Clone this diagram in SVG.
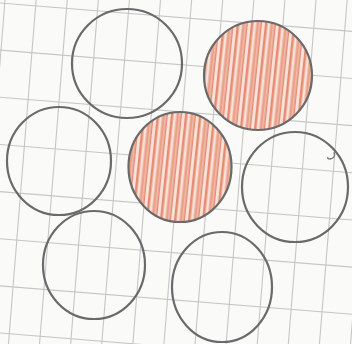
<svg xmlns="http://www.w3.org/2000/svg" width="352" height="344" viewBox="0 0 352 344">
<defs>
<style>
.grid line{stroke:#c6c6c6;stroke-width:1.1}
.ring{fill:none;stroke:#6a6a6a;stroke-width:2.2}
.shaded{fill:url(#hatch);stroke:#6a6a6a;stroke-width:2.2}
</style>
<pattern id="hatch" patternUnits="userSpaceOnUse" width="14" height="60" patternTransform="rotate(6)">
<rect width="14" height="60" fill="#f6d9cf"/>
<rect x="0" width="2.5" height="60" fill="#e58d72"/>
<rect x="3.5" width="1" height="60" fill="#fbeae4"/>
<rect x="5.5" width="3" height="60" fill="#eba087"/>
<rect x="9.5" width="1.3" height="60" fill="#e07a60"/>
<rect x="11.5" width="2" height="60" fill="#f9e3db"/>
</pattern>
</defs>
<rect width="352" height="344" fill="#fafaf8"/>
<g class="grid" transform="rotate(4.6)">
<line x1="-57" y1="-60" x2="-57" y2="420"/>
<line x1="-26" y1="-60" x2="-26" y2="420"/>
<line x1="5" y1="-60" x2="5" y2="420"/>
<line x1="36" y1="-60" x2="36" y2="420"/>
<line x1="67" y1="-60" x2="67" y2="420"/>
<line x1="98" y1="-60" x2="98" y2="420"/>
<line x1="129" y1="-60" x2="129" y2="420"/>
<line x1="160" y1="-60" x2="160" y2="420"/>
<line x1="191" y1="-60" x2="191" y2="420"/>
<line x1="222" y1="-60" x2="222" y2="420"/>
<line x1="253" y1="-60" x2="253" y2="420"/>
<line x1="284" y1="-60" x2="284" y2="420"/>
<line x1="315" y1="-60" x2="315" y2="420"/>
<line x1="346" y1="-60" x2="346" y2="420"/>
<line x1="377" y1="-60" x2="377" y2="420"/>
<line x1="408" y1="-60" x2="408" y2="420"/>
<line x1="-60" y1="-91" x2="420" y2="-91"/>
<line x1="-60" y1="-44" x2="420" y2="-44"/>
<line x1="-60" y1="3" x2="420" y2="3"/>
<line x1="-60" y1="50" x2="420" y2="50"/>
<line x1="-60" y1="97" x2="420" y2="97"/>
<line x1="-60" y1="144" x2="420" y2="144"/>
<line x1="-60" y1="191" x2="420" y2="191"/>
<line x1="-60" y1="238" x2="420" y2="238"/>
<line x1="-60" y1="285" x2="420" y2="285"/>
<line x1="-60" y1="332" x2="420" y2="332"/>
<line x1="-60" y1="379" x2="420" y2="379"/>
</g>
<g id="circle-top-left"><ellipse class="ring" cx="127" cy="63.5" rx="55" ry="54.5"/></g>
<g id="circle-top-right"><ellipse class="shaded" cx="258" cy="75.5" rx="54" ry="54.5"/></g>
<g id="circle-mid-left"><ellipse class="ring" cx="59" cy="161" rx="52" ry="54"/></g>
<g id="circle-center"><ellipse class="shaded" cx="180" cy="167" rx="51.5" ry="55"/></g>
<g id="circle-mid-right"><ellipse class="ring" cx="295" cy="187" rx="53" ry="55"/>
<path d="M334 152 q2 6 -4 7 q-3 0 -2 -2" fill="none" stroke="#777" stroke-width="1.4"/></g>
<g id="circle-bottom-left"><ellipse class="ring" cx="94" cy="265" rx="51" ry="54"/></g>
<g id="circle-bottom-right"><ellipse class="ring" cx="222" cy="287" rx="50" ry="55"/></g>
</svg>
